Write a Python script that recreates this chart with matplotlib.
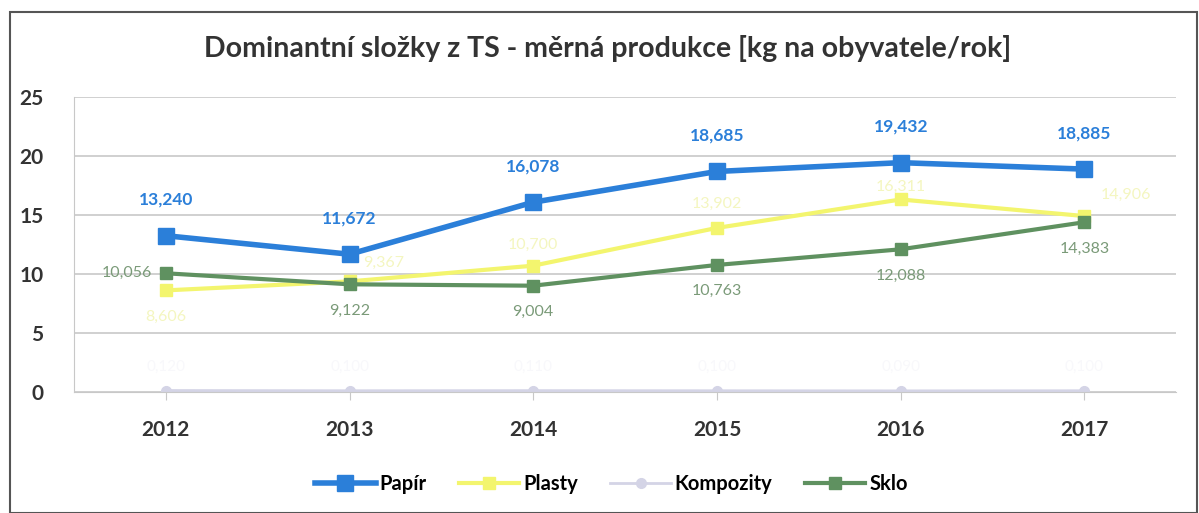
import matplotlib
matplotlib.use("Agg")
import matplotlib.pyplot as plt
from matplotlib.patches import Rectangle

roky = ["2012", "2013", "2014", "2015", "2016", "2017"]
papir = [13.240, 11.672, 16.078, 18.685, 19.432, 18.885]
plasty = [8.606, 9.367, 10.700, 13.902, 16.311, 14.906]
kompozity = [0.12, 0.10, 0.11, 0.10, 0.09, 0.10]
sklo = [10.056, 9.122, 9.004, 10.763, 12.088, 14.383]

c_papir = "#2b7fd9"
c_plasty = "#f3f56e"
c_komp = "#d4d4e6"
c_sklo = "#5f9160"

plt.rcParams['font.family'] = ['Lato', 'DejaVu Sans']

fig = plt.figure(figsize=(11.99, 5.13), dpi=100)
ax = fig.add_axes([0.0617, 0.236, 0.9193, 0.575])
x = range(len(roky))

ax.plot(x, plasty, color=c_plasty, lw=3, marker="s", ms=9, label="Plasty", zorder=2)
ax.plot(x, kompozity, color=c_komp, lw=2, marker="o", ms=7, label="Kompozity", zorder=2)
ax.plot(x, sklo, color=c_sklo, lw=3, marker="s", ms=9, label="Sklo", zorder=3)
ax.plot(x, papir, color=c_papir, lw=4, marker="s", ms=11, label="Papír", zorder=4)

def fmt(v):
    return f"{v:.3f}".replace(".", ",")

# popisky Papír - nad body
for i, v in enumerate(papir):
    ax.annotate(fmt(v), (i, v), xytext=(0, 20), textcoords="offset points",
                ha="center", va="bottom", color=c_papir, fontsize=12.5, fontweight="bold")

# popisky Sklo
for i, v in enumerate(sklo):
    if i == 0:
        ax.annotate(fmt(v), (i, v), xytext=(-10, 0), textcoords="offset points",
                    ha="right", va="center", color="#7a9a78", fontsize=11.5)
    else:
        ax.annotate(fmt(v), (i, v), xytext=(0, -14), textcoords="offset points",
                    ha="center", va="top", color="#7a9a78", fontsize=11.5)

# popisky Plasty (slabe)
pl_off = [(0, -14, "center", "top"), (10, 8, "left", "bottom"), (0, 10, "center", "bottom"),
          (0, 12, "center", "bottom"), (0, 4, "center", "bottom"), (12, 10, "left", "bottom")]
for i, v in enumerate(plasty):
    dx, dy, ha, va = pl_off[i]
    ax.annotate(fmt(v), (i, v), xytext=(dx, dy), textcoords="offset points",
                ha=ha, va=va, color="#f4f6c0", fontsize=11.5)

# popisky Kompozity (skoro neviditelne)
for i, v in enumerate(kompozity):
    ax.annotate(fmt(v), (i, v), xytext=(0, 12), textcoords="offset points",
                ha="center", va="bottom", color="#f8f8fb", fontsize=11)

ax.set_xlim(-0.5, 5.5)
ax.set_ylim(0, 25)
ax.set_yticks([0, 5, 10, 15, 20, 25])
ax.set_xticks(list(x))
ax.set_xticklabels(roky)
ax.grid(axis="y", color="#c8c8c8", lw=1.2)
ax.set_axisbelow(True)
for s in ["top", "right"]:
    ax.spines[s].set_visible(False)
ax.spines["bottom"].set_color("#c8c8c8")
ax.spines["left"].set_color("#c8c8c8")
ax.tick_params(axis="y", length=0, pad=22, labelsize=15, labelcolor="#333333")
ax.tick_params(axis="x", length=6, color="#c8c8c8", pad=14, labelsize=15, labelcolor="#333333")
for t in ax.get_xticklabels() + ax.get_yticklabels():
    t.set_fontweight("bold")

fig.text(0.507, 0.905, "Dominantní složky z TS - měrná produkce [kg na obyvatele/rok]",
         ha="center", va="center", fontsize=20.5, fontweight="bold", color="#333333")

h, l = ax.get_legend_handles_labels()
order = [3, 0, 1, 2]
fig.legend([h[k] for k in order], [l[k] for k in order], loc="center", bbox_to_anchor=(0.51, 0.057),
           ncol=4, frameon=False, handlelength=3, columnspacing=1.6, handletextpad=0.2,
           prop={"weight": "bold", "size": 14.5})

# ramecek grafu
fig.patches.append(Rectangle((0.008, 0.0), 0.99, 0.977, transform=fig.transFigure,
                             fill=False, edgecolor="#555555", lw=1.5))

fig.savefig("out.png", dpi=100)
